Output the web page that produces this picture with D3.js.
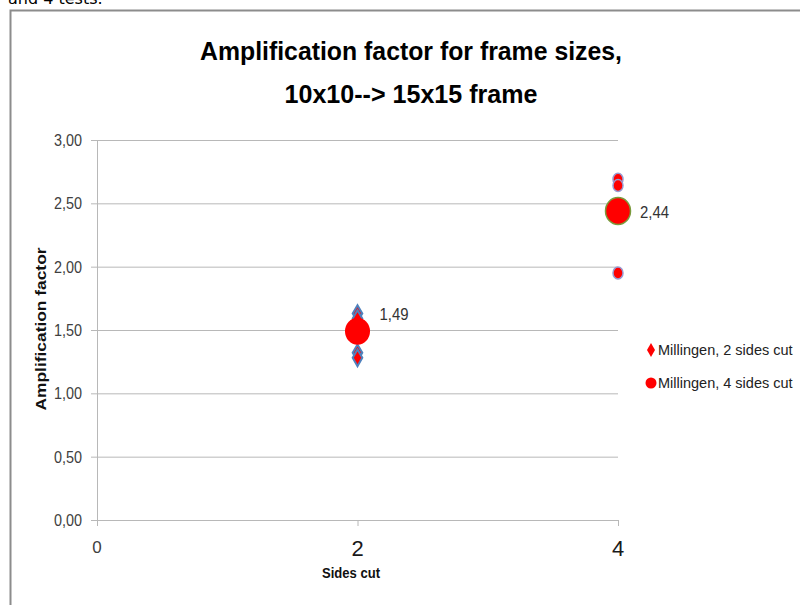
<!DOCTYPE html>
<html><head><meta charset="utf-8">
<script src="https://cdn.jsdelivr.net/npm/d3@7"></script>
<style>body{margin:0;background:#fff}svg{display:block}</style>
</head><body>
<svg id="c" width="800" height="605"></svg>
<script>
const seriesNames = ["Millingen, 2 sides cut", "Millingen, 4 sides cut"];
const s1x = 2;
const s1Values = [1.63, 1.59, 1.32, 1.28];
const s2x = 4;
const s2Values = [2.69, 2.64, 1.95];
const avgX = [2, 4];
const avgValues = [1.49, 2.44];
const avgLabels = ["1,49", "2,44"];
const yTicks = [0, 0.5, 1, 1.5, 2, 2.5, 3];
const xTicks = [0, 2, 4];

const svg = d3.select("#c");
const fmt = v => d3.format(".2f")(v).replace(".", ",");
const x = d3.scaleLinear().domain([0, 4]).range([97, 618]);
const y = d3.scaleLinear().domain([0, 3]).range([520, 140]);
const F = "'Liberation Sans Narrow', 'Liberation Sans', Arial, sans-serif";

// outside text (cropped at top, as in the source screenshot)
svg.append("text").attr("x", 8).attr("y", 4).attr("font-family", "'DejaVu Sans', sans-serif")
  .attr("font-size", 16).attr("fill", "#000").text("and 4 tests.");

// chart frame
svg.append("path").attr("d", "M10.5,606 V10.5 H801").attr("fill", "none")
  .attr("stroke", "#8c8c8c").attr("stroke-width", 2);

// gridlines
svg.append("g").selectAll("line").data(yTicks).join("line")
  .attr("x1", x(0) - 6).attr("x2", x(4)).attr("y1", d => y(d) + 0.5).attr("y2", d => y(d) + 0.5)
  .attr("stroke", "#b8b8b8").attr("stroke-width", 1);
svg.append("line").attr("x1", x(0) + 0.5).attr("x2", x(0) + 0.5).attr("y1", y(3)).attr("y2", y(0) + 6)
  .attr("stroke", "#b8b8b8");
svg.append("g").selectAll("line").data(xTicks).join("line")
  .attr("x1", d => x(d) + 0.5).attr("x2", d => x(d) + 0.5).attr("y1", y(0)).attr("y2", y(0) + 6)
  .attr("stroke", "#b8b8b8");

// y tick labels
svg.append("g").selectAll("text").data(yTicks).join("text")
  .attr("x", 82).attr("y", d => y(d) + 6).attr("text-anchor", "end")
  .attr("font-family", F).attr("font-size", 16).attr("fill", "#404040")
  .attr("textLength", 28).attr("lengthAdjust", "spacingAndGlyphs")
  .text(fmt);
// x tick labels
svg.append("g").selectAll("text").data(xTicks).join("text")
  .attr("x", d => x(d)).attr("y", d => d === 0 ? 553 : 556).attr("text-anchor", "middle")
  .attr("font-family", F).attr("font-size", d => d === 0 ? 17 : 22).attr("fill", d => d === 0 ? "#404040" : "#1a1a1a")
  .text(d => d);

// axis titles
svg.append("text").attr("x", 351).attr("y", 578).attr("text-anchor", "middle")
  .attr("font-family", F).attr("font-weight", "bold").attr("font-size", 15).attr("fill", "#111")
  .attr("textLength", 58).attr("lengthAdjust", "spacingAndGlyphs").text("Sides cut");
svg.append("text").attr("transform", "translate(46,329) rotate(-90)").attr("text-anchor", "middle")
  .attr("font-family", F).attr("font-weight", "bold").attr("font-size", 15).attr("fill", "#111")
  .attr("textLength", 163).attr("lengthAdjust", "spacingAndGlyphs").text("Amplification factor");

// title
svg.append("text").attr("x", 411).attr("y", 60).attr("text-anchor", "middle")
  .attr("font-family", F).attr("font-weight", "bold").attr("font-size", 26).attr("fill", "#000")
  .attr("textLength", 422).attr("lengthAdjust", "spacingAndGlyphs").text("Amplification factor for frame sizes,");
svg.append("text").attr("x", 411).attr("y", 103).attr("text-anchor", "middle")
  .attr("font-family", F).attr("font-weight", "bold").attr("font-size", 26).attr("fill", "#000")
  .attr("textLength", 253).attr("lengthAdjust", "spacingAndGlyphs").text("10x10--> 15x15 frame");

// series 1: diamonds
const diamond = d3.symbol().type(d3.symbolDiamond).size(80);
svg.append("g").selectAll("path").data(s1Values).join("path")
  .attr("d", diamond).attr("transform", d => `translate(${x(s1x)},${y(d)})`)
  .attr("fill", "#ff0000").attr("stroke", "#4f81bd").attr("stroke-width", 2);
// series 2: small circles
svg.append("g").selectAll("ellipse").data(s2Values).join("ellipse")
  .attr("cx", x(s2x)).attr("cy", d => y(d)).attr("rx", 5).attr("ry", 6)
  .attr("fill", "#ff0000").attr("stroke", "#9a9ad0").attr("stroke-width", 1.5);
// averages: big circles with labels
svg.append("g").selectAll("ellipse").data(avgValues).join("ellipse")
  .attr("cx", (d, i) => x(avgX[i])).attr("cy", d => y(d)).attr("rx", 12.5).attr("ry", 13.5)
  .attr("fill", "#ff0000").attr("stroke", (d, i) => i === 1 ? "#7a9a3c" : "none").attr("stroke-width", 1.5);
svg.append("g").selectAll("text").data(avgValues).join("text")
  .attr("x", (d, i) => x(avgX[i]) + 22).attr("y", (d, i) => y(d) + (i === 0 ? -11 : 7))
  .attr("font-family", F).attr("font-size", 16).attr("fill", "#333")
  .attr("textLength", 29).attr("lengthAdjust", "spacingAndGlyphs")
  .text((d, i) => avgLabels[i]);

// legend
const lg = svg.append("g");
lg.append("path").attr("d", d3.symbol().type(d3.symbolDiamond).size(55))
  .attr("transform", "translate(651,350)").attr("fill", "#ff0000");
lg.append("circle").attr("cx", 651).attr("cy", 383).attr("r", 5.5).attr("fill", "#ff0000");
lg.selectAll("text").data(seriesNames).join("text")
  .attr("x", 658).attr("y", (d, i) => 355 + i * 33)
  .attr("font-family", F).attr("font-size", 14.5).attr("fill", "#222")
  .text(d => d);
</script>
</body></html>
